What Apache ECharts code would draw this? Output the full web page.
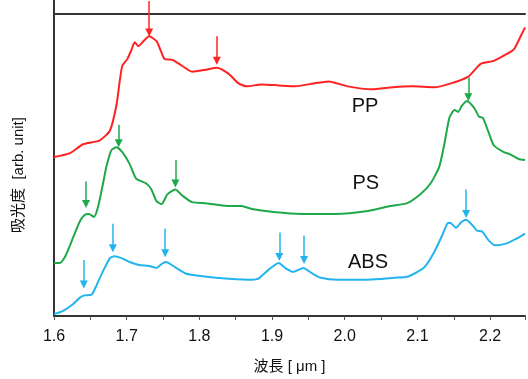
<!DOCTYPE html>
<html>
<head>
<meta charset="utf-8">
<script src="https://cdn.jsdelivr.net/npm/echarts@6/dist/echarts.min.js"></script>
<style>
  html, body { margin: 0; padding: 0; background: #fff; }
  #chart { width: 528px; height: 379px; }
</style>
</head>
<body>
<div id="chart"></div>
<script>
// spectra: [wavelength (um), absorbance (arb. unit, offset per trace)]
const ppData = [
  [1.600, 1.62], [1.622, 1.66], [1.640, 1.75], [1.663, 1.79], [1.677, 1.89],
  [1.686, 2.15], [1.690, 2.37], [1.694, 2.55], [1.701, 2.62], [1.707, 2.72],
  [1.711, 2.79], [1.716, 2.75], [1.723, 2.80], [1.731, 2.85], [1.741, 2.80],
  [1.746, 2.72], [1.752, 2.62], [1.763, 2.61], [1.776, 2.55], [1.790, 2.49],
  [1.809, 2.51], [1.824, 2.53], [1.840, 2.47], [1.854, 2.37], [1.865, 2.34],
  [1.886, 2.36], [1.909, 2.35], [1.932, 2.34], [1.957, 2.37], [1.978, 2.39],
  [2.004, 2.34], [2.037, 2.31], [2.066, 2.33], [2.092, 2.34], [2.123, 2.33],
  [2.146, 2.37], [2.170, 2.44], [2.187, 2.57], [2.205, 2.60], [2.223, 2.67],
  [2.233, 2.72], [2.242, 2.85], [2.248, 2.94]
];
const psData = [
  [1.600, 0.54], [1.608, 0.54], [1.615, 0.60], [1.622, 0.72], [1.629, 0.85],
  [1.636, 0.97], [1.642, 1.03], [1.648, 1.04], [1.655, 1.01], [1.659, 1.07],
  [1.663, 1.19], [1.668, 1.37], [1.672, 1.52], [1.679, 1.69], [1.686, 1.72],
  [1.694, 1.67], [1.704, 1.55], [1.713, 1.40], [1.727, 1.35], [1.734, 1.29],
  [1.741, 1.17], [1.748, 1.14], [1.756, 1.24], [1.767, 1.29], [1.776, 1.23],
  [1.790, 1.16], [1.809, 1.15], [1.827, 1.13], [1.840, 1.12], [1.858, 1.12],
  [1.872, 1.09], [1.902, 1.06], [1.940, 1.04], [1.987, 1.04], [2.032, 1.07],
  [2.063, 1.12], [2.086, 1.15], [2.104, 1.24], [2.118, 1.35], [2.130, 1.52],
  [2.137, 1.75], [2.144, 2.02], [2.151, 2.10], [2.156, 2.08], [2.161, 2.14],
  [2.168, 2.19], [2.178, 2.12], [2.185, 2.03], [2.190, 2.02], [2.198, 1.87],
  [2.205, 1.74], [2.219, 1.67], [2.227, 1.65], [2.239, 1.60], [2.248, 1.59]
];
const absData = [
  [1.600, 0.02], [1.612, 0.05], [1.626, 0.12], [1.636, 0.19], [1.642, 0.21],
  [1.652, 0.22], [1.659, 0.32], [1.667, 0.45], [1.677, 0.59], [1.683, 0.61],
  [1.693, 0.59], [1.704, 0.55], [1.717, 0.52], [1.731, 0.51], [1.741, 0.49],
  [1.748, 0.53], [1.754, 0.55], [1.768, 0.49], [1.782, 0.43], [1.799, 0.41],
  [1.823, 0.39], [1.840, 0.38], [1.872, 0.37], [1.881, 0.38], [1.895, 0.47],
  [1.909, 0.54], [1.918, 0.49], [1.929, 0.45], [1.943, 0.49], [1.954, 0.44],
  [1.967, 0.39], [1.991, 0.37], [2.032, 0.37], [2.069, 0.39], [2.086, 0.40],
  [2.100, 0.45], [2.110, 0.50], [2.123, 0.65], [2.134, 0.82], [2.141, 0.94],
  [2.145, 0.95], [2.153, 0.90], [2.161, 0.96], [2.167, 0.98], [2.175, 0.93],
  [2.182, 0.87], [2.189, 0.86], [2.198, 0.77], [2.207, 0.72], [2.223, 0.74],
  [2.237, 0.79], [2.248, 0.84]
];

// peak arrows: [wavelength, arrow start, arrow tip]
const ppArrows = [[1.731, 3.21, 2.89], [1.824, 2.85, 2.60]];
const psArrows = [[1.644, 1.37, 1.14], [1.689, 1.95, 1.76], [1.767, 1.59, 1.35], [2.170, 2.43, 2.23]];
const absArrows = [[1.641, 0.57, 0.32], [1.681, 0.94, 0.69], [1.753, 0.89, 0.64],
                   [1.910, 0.85, 0.60], [1.944, 0.82, 0.57], [2.167, 1.29, 1.04]];

// trace labels: [name, wavelength, absorbance]
const traceLabels = [['PP', 2.028, 2.14], ['PS', 2.029, 1.35], ['ABS', 2.032, 0.55]];

const xTicks = ['1.6', '1.7', '1.8', '1.9', '2.0', '2.1', '2.2'];

const font = '"Liberation Sans", Arial, "Noto Sans CJK JP", sans-serif';

function arrowLines(arrows) {
  return arrows.map(a => [{ coord: [a[0], a[1]] }, { coord: [a[0], a[2]] }]);
}

function makeSeries(name, data, arrows, color) {
  const lbl = traceLabels.find(t => t[0] === name);
  return {
    name: name,
    type: 'line',
    data: data,
    smooth: 0.2,
    showSymbol: false,
    lineStyle: { color: color, width: 2 },
    markLine: {
      silent: true,
      symbol: ['none', 'triangle'],
      symbolSize: 8,
      label: { show: false },
      lineStyle: { color: color, width: 1.5, type: 'solid' },
      data: arrowLines(arrows)
    },
    markPoint: {
      silent: true,
      symbol: 'circle',
      symbolSize: 0,
      label: {
        show: true,
        formatter: name,
        color: '#111',
        fontSize: 20,
        fontFamily: font
      },
      data: [{ coord: [lbl[1], lbl[2]] }]
    }
  };
}

const chart = echarts.init(document.getElementById('chart'), null, { renderer: 'canvas' });

chart.setOption({
  animation: false,
  backgroundColor: '#fff',
  grid: { left: 54, right: 0, top: 0, bottom: 57 },
  xAxis: [{
    type: 'value',
    min: 1.6,
    max: 2.248,
    interval: 0.1,
    name: '波長 [ μm ]',
    nameLocation: 'middle',
    nameGap: 43,
    nameTextStyle: { fontSize: 15, color: '#111', fontFamily: font },
    axisLine: { show: true, lineStyle: { color: '#333', width: 2 } },
    axisTick: { show: true, length: 4, lineStyle: { color: '#555' } },
    minorTick: { show: true, splitNumber: 2, length: 4, lineStyle: { color: '#555' } },
    axisLabel: {
      margin: 13,
      fontSize: 16,
      color: '#111',
      fontFamily: font,
      formatter: v => {
        if (Math.abs(v * 10 - Math.round(v * 10)) > 1e-6) return '';
        const s = v.toFixed(1);
        return xTicks.indexOf(s) >= 0 ? s : '';
      }
    },
    splitLine: { show: false }
  }, {
    // top frame line
    type: 'value',
    position: 'top',
    offset: -14,
    min: 1.6,
    max: 2.248,
    axisLine: { show: true, lineStyle: { color: '#333', width: 2 } },
    axisTick: { show: false },
    axisLabel: { show: false },
    splitLine: { show: false }
  }],
  yAxis: {
    type: 'value',
    min: 0,
    max: 3.22,
    name: '吸光度  [arb. unit]',
    nameLocation: 'middle',
    nameRotate: 90,
    nameGap: 28,
    nameTextStyle: { fontSize: 15, color: '#111', fontFamily: font, padding: [0, 34, 0, 0] },
    axisLine: { show: true, lineStyle: { color: '#333', width: 2 } },
    axisTick: { show: false },
    axisLabel: { show: false },
    splitLine: { show: false }
  },
  series: [
    makeSeries('PP', ppData, ppArrows, '#ff2222'),
    makeSeries('PS', psData, psArrows, '#1fa84a'),
    makeSeries('ABS', absData, absArrows, '#22b4ee')
  ]
});
</script>
</body>
</html>
